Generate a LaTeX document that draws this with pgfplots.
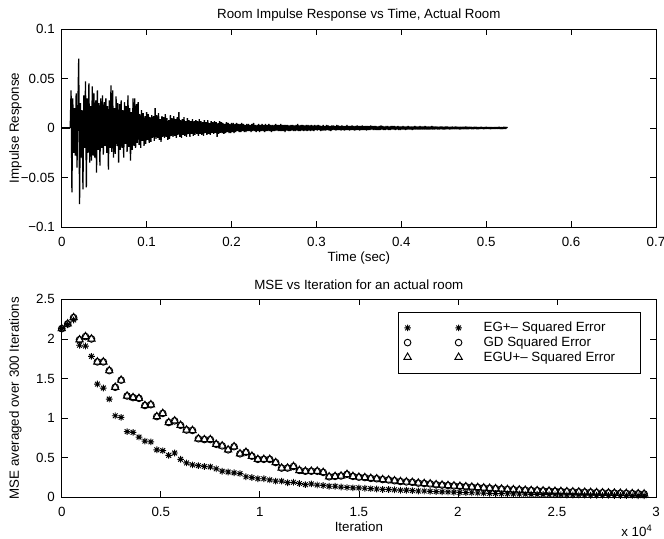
\documentclass[border=0pt]{standalone}
\usepackage{fontspec}
\setmainfont{Liberation Sans}
\usepackage{pgfplots}
\pgfplotsset{compat=1.18}
\usepackage{pgfplotstable}

\pgfdeclareplotmark{mstar}{%
  \pgfpathmoveto{\pgfqpoint{-\pgfplotmarksize}{0pt}}\pgfpathlineto{\pgfqpoint{\pgfplotmarksize}{0pt}}%
  \pgfpathmoveto{\pgfqpoint{0pt}{-\pgfplotmarksize}}\pgfpathlineto{\pgfqpoint{0pt}{\pgfplotmarksize}}%
  \pgfpathmoveto{\pgfqpoint{-0.707\pgfplotmarksize}{-0.707\pgfplotmarksize}}\pgfpathlineto{\pgfqpoint{0.707\pgfplotmarksize}{0.707\pgfplotmarksize}}%
  \pgfpathmoveto{\pgfqpoint{-0.707\pgfplotmarksize}{0.707\pgfplotmarksize}}\pgfpathlineto{\pgfqpoint{0.707\pgfplotmarksize}{-0.707\pgfplotmarksize}}%
  \pgfusepathqstroke}

% impulse response, in thousandths, samples every 1 ms from t = 0.010 s
\pgfplotstableread[row sep=\\]{
y\\
0\\38\\-65\\30\\-25\\20\\-28\\35\\-40\\22\\
70\\-77\\25\\-30\\18\\-62\\33\\-20\\47\\-60\\
30\\-25\\45\\-35\\22\\-33\\42\\-28\\35\\-30\\
28\\-45\\38\\-22\\25\\-38\\30\\-20\\33\\-27\\
26\\-18\\30\\-25\\22\\-42\\28\\-20\\43\\-24\\
38\\-30\\20\\-26\\32\\-18\\25\\-35\\24\\-22\\
28\\-20\\18\\-30\\26\\-16\\22\\-24\\33\\-19\\
20\\-33\\16\\-22\\30\\-18\\30\\-20\\24\\-15\\
26\\-17\\14\\-20\\18\\-13\\15\\-18\\12\\-16\\
16\\-12\\14\\-15\\11\\-14\\13\\-10\\12\\-13\\
20\\-11\\13\\-10\\15\\-12\\9\\-14\\12\\-9\\
11\\-10\\14\\-9\\10\\-12\\8\\-11\\13\\-8\\
10\\-9\\12\\-8\\9\\-10\\11\\-7\\16\\-9\\
8\\-10\\9\\-7\\11\\-8\\7\\-9\\10\\-6\\
8\\-9\\7\\-6\\9\\-8\\7\\-7\\8\\-6\\
7\\-8\\9\\-6\\7\\-7\\6\\-8\\8\\-5\\
6\\-7\\8\\-6\\5\\-7\\7\\-5\\6\\-6\\
7\\-5\\6\\-9\\5\\-6\\7\\-5\\6\\-5\\
5\\-6\\4\\-5\\6\\-4\\5\\-5\\4\\-5\\
5\\-4\\5\\-5\\4\\-4\\5\\-3\\4\\-4\\
4\\-4\\5\\-3\\4\\-4\\3\\-4\\4\\-3\\
4\\-3\\3\\-4\\4\\-3\\5\\-3\\3\\-4\\
3\\-3\\4\\-4\\3\\-3\\4\\-3\\3\\-4\\
4\\-3\\3\\-3\\4\\-3\\3\\-4\\3\\-3\\
3\\-3\\4\\-2.5\\3\\-3\\3\\-3\\4\\-3\\
3\\-3\\3\\-4\\3\\-2.5\\3\\-3\\2.5\\-3\\
3\\-2.5\\3\\-3\\2.5\\-3\\3\\-2.5\\4\\-3\\
2.5\\-3\\3\\-2.5\\3\\-3\\2.5\\-2.5\\3\\-3\\
3\\-2.5\\2.5\\-3\\3\\-2.5\\2.5\\-3\\3\\-2\\
2.5\\-2.5\\3\\-2\\2.5\\-3\\2\\-2.5\\3\\-2.5\\
2\\-2.5\\3\\-2\\2.5\\-2.5\\2\\-3\\2.5\\-2\\
2.5\\-2\\2\\-2.5\\3\\-2\\2.5\\-2\\2\\-2.5\\
2.5\\-2\\2\\-2.5\\2\\-2\\3\\-2\\2\\-2.5\\
2\\-2\\2.5\\-2\\2\\-2.5\\2\\-2\\2.5\\-2\\
2\\-2.5\\2\\-2\\2.5\\-2\\2\\-2\\2\\-2.5\\
2\\-2\\2\\-2\\2.5\\-1.5\\2\\-2\\2\\-2\\
2\\-2\\1.5\\-2\\2\\-2\\2.5\\-1.5\\2\\-2\\
1.5\\-2\\2\\-1.5\\2\\-2\\1.5\\-2\\2\\-1.5\\
2\\-1.5\\2\\-2\\1.5\\-1.5\\2\\-2\\1.5\\-2\\
1.5\\-1.5\\2\\-1.5\\1.5\\-2\\1.5\\-1.5\\2\\-1.5\\
1.5\\-1.5\\1.5\\-2\\1.5\\-1.5\\2\\-1.5\\1.5\\-1.5\\
1.5\\-1.5\\2\\-1.5\\1.5\\-1.5\\1.5\\-1.5\\2\\-1.5\\
1.5\\-1.5\\1.5\\-1.5\\1.5\\-1.5\\2\\-1.5\\1.5\\-1.5\\
1.5\\-1.2\\1.5\\-1.5\\1.2\\-1.5\\1.5\\-1.2\\1.5\\-1.5\\
1.2\\-1.5\\1.5\\-1.2\\1.5\\-1.2\\1.2\\-1.5\\1.2\\-1.2\\
1.5\\-1.2\\1.2\\-1.2\\1.5\\-1.2\\1.2\\-1.2\\1.2\\-1.5\\
1.2\\-1.2\\1.2\\-1.2\\1.2\\-1.2\\1.5\\-1.2\\1.2\\-1.2\\
1.2\\-1\\1.2\\-1.2\\1\\-1.2\\1.2\\-1\\1.2\\-1.2\\
1\\-1.2\\1\\-1\\1.2\\-1\\1\\-1.2\\1\\-1\\
1.2\\-1\\1\\-1\\1\\-1.2\\1\\-1\\1\\-1\\
1\\-1\\1\\-1\\1\\-0.8\\1\\-1\\0.8\\-1\\
1\\-0.8\\1\\-0.8\\0.8\\0\\
}\irdata

% MSE averaged over 300 iterations
\pgfplotstableread{
it eg gd egu
0 2.13 2.13 2.13
300 2.18 2.19 2.19
600 2.24 2.27 2.27
900 1.92 1.99 1.99
1200 1.91 2.03 2.03
1500 1.78 2.00 2.00
1800 1.43 1.71 1.71
2100 1.38 1.71 1.71
2400 1.24 1.60 1.60
2700 1.03 1.39 1.39
3000 1.01 1.48 1.48
3300 0.83 1.28 1.28
3600 0.82 1.26 1.26
3900 0.76 1.25 1.25
4200 0.71 1.16 1.16
4500 0.70 1.17 1.17
4800 0.60 1.02 1.02
5100 0.59 1.06 1.06
5400 0.53 0.945 0.945
5700 0.56 0.966 0.966
6000 0.48 0.91 0.91
6300 0.435 0.85 0.85
6600 0.41 0.845 0.845
6900 0.40 0.74 0.74
7200 0.39 0.73 0.73
7500 0.385 0.73 0.73
7800 0.36 0.67 0.67
8100 0.33 0.65 0.65
8400 0.32 0.60 0.60
8700 0.31 0.64 0.64
9000 0.30 0.55 0.55
9300 0.26 0.57 0.57
9600 0.25 0.52 0.52
9900 0.235 0.48 0.48
10200 0.235 0.48 0.48
10500 0.22 0.48 0.48
10800 0.205 0.44 0.44
11100 0.205 0.37 0.37
11400 0.185 0.37 0.37
11700 0.19 0.39 0.39
12000 0.175 0.34 0.34
12300 0.16 0.33 0.33
12600 0.17 0.33 0.33
12900 0.155 0.33 0.33
13200 0.15 0.315 0.315
13500 0.14 0.26 0.26
13800 0.14 0.265 0.265
14100 0.13 0.27 0.27
14400 0.125 0.29 0.29
14700 0.12 0.265 0.265
15000 0.12 0.255 0.255
15300 0.115 0.25 0.25
15600 0.11 0.24 0.24
15900 0.105 0.235 0.235
16200 0.10 0.225 0.225
16500 0.10 0.22 0.22
16800 0.095 0.21 0.21
17100 0.09 0.20 0.20
17400 0.09 0.195 0.195
17700 0.085 0.19 0.19
18000 0.08 0.18 0.18
18300 0.08 0.175 0.175
18600 0.075 0.17 0.17
18900 0.072 0.16 0.16
19200 0.07 0.155 0.155
19500 0.068 0.15 0.15
19800 0.065 0.145 0.145
20100 0.062 0.14 0.14
20400 0.06 0.135 0.135
20700 0.058 0.13 0.13
21000 0.055 0.125 0.125
21300 0.053 0.12 0.12
21600 0.05 0.115 0.115
21900 0.048 0.11 0.11
22200 0.046 0.105 0.105
22500 0.045 0.10 0.10
22800 0.043 0.097 0.097
23100 0.042 0.094 0.094
23400 0.04 0.09 0.09
23700 0.038 0.087 0.087
24000 0.037 0.085 0.085
24300 0.035 0.082 0.082
24600 0.034 0.08 0.08
24900 0.033 0.077 0.077
25200 0.032 0.075 0.075
25500 0.03 0.072 0.072
25800 0.03 0.07 0.07
26100 0.029 0.068 0.068
26400 0.028 0.065 0.065
26700 0.027 0.063 0.063
27000 0.026 0.06 0.06
27300 0.025 0.058 0.058
27600 0.025 0.056 0.056
27900 0.024 0.054 0.054
28200 0.023 0.052 0.052
28500 0.022 0.05 0.05
28800 0.022 0.048 0.048
29100 0.021 0.046 0.046
29400 0.02 0.043 0.043
}\msedata

\pgfplotsset{
  mat/.style={
    scale only axis, width=445.7pt, height=148.5pt,
    line width=0.5pt,
    tick align=inside, major tick length=4.5pt,
    every tick/.style={black, line width=0.5pt},
    xticklabel style={yshift=-4pt},
    yticklabel style={xshift=-1.7pt},
    title style={at={(axis description cs:0.5,1)}, anchor=base, yshift=1.6pt},
    xlabel style={at={(axis description cs:0.5,0)}, anchor=base, yshift=-25.5pt},
    ylabel style={at={(axis description cs:-0.0722,0.5)}, anchor=base},
    clip mode=individual,
  }
}

\begin{document}
\begin{tikzpicture}
\begin{axis}[mat, at={(46.3pt,-21.75pt)}, anchor=north west,
  xmin=0, xmax=0.7, ymin=-0.1, ymax=0.1,
  xtick={0,0.1,0.2,0.3,0.4,0.5,0.6,0.7},
  xticklabels={0,0.1,0.2,0.3,0.4,0.5,0.6,0.7},
  ytick={-0.1,-0.05,0,0.05,0.1},
  yticklabels={−0.1,−0.05,0,0.05,0.1},
  title={Room Impulse Response vs Time, Actual Room},
  xlabel={Time (sec)}, ylabel={Impulse Response}]
\addplot[black, line width=0.95pt] coordinates {(0,0) (0.0099,0)};
\addplot[black, line width=0.95pt, line join=bevel] table[x expr=0.01+\coordindex*0.001, x index=0, y index=0, y expr=\thisrowno{0}/1000] {\irdata};
\end{axis}

\begin{axis}[mat, name=bot, at={(46.3pt,-224.5pt)}, anchor=north west,
  xmin=0, xmax=30000, ymin=0, ymax=2.5,
  scaled x ticks=false,
  xtick={0,5000,10000,15000,20000,25000,30000},
  xticklabels={0,0.5,1,1.5,2,2.5,3},
  ytick={0,0.5,1,1.5,2,2.5},
  yticklabels={0,0.5,1,1.5,2,2.5},
  title={MSE vs Iteration for an actual room},
  xlabel={Iteration}, ylabel={MSE averaged over 300 Iterations},
  legend cell align=left,
  legend image code/.code={%
    \path[#1, draw=none] plot[only marks] coordinates {(0pt,0pt) (38.25pt,0pt)};},
  legend style={at={(axis description cs:0.9748,0.9375)}, anchor=north east,
    draw=black, line width=0.5pt, inner xsep=4.3pt, inner ysep=6.4pt,
    row sep=0pt, column sep=16pt,
    nodes={inner sep=0pt, text height=8.5pt, text depth=2.5pt}},
  ]
\addplot[black, only marks, mark=mstar, mark size=2.5pt, mark options={line width=0.7pt}] table[x=it, y=eg] {\msedata};
\addlegendentry{\makebox[113.5pt][l]{EG+– Squared Error}}
\addplot[black, only marks, mark=o, mark size=2.5pt, mark options={line width=0.7pt}] table[x=it, y=gd] {\msedata};
\addlegendentry{\makebox[113.5pt][l]{GD Squared Error}}
\addplot[black, only marks, mark=triangle, mark size=3.2pt, mark options={line width=0.7pt}] table[x=it, y=egu] {\msedata};
\addlegendentry{\makebox[113.5pt][l]{EGU+– Squared Error}}
\end{axis}
\node[anchor=base east, inner sep=0pt, xshift=-2.5pt, yshift=-29pt] at (bot.south east) {x 10\textsuperscript{4}};

\pgfresetboundingbox
\path[use as bounding box] (0pt,0pt) rectangle (498pt,-404.25pt);
\end{tikzpicture}
\end{document}
